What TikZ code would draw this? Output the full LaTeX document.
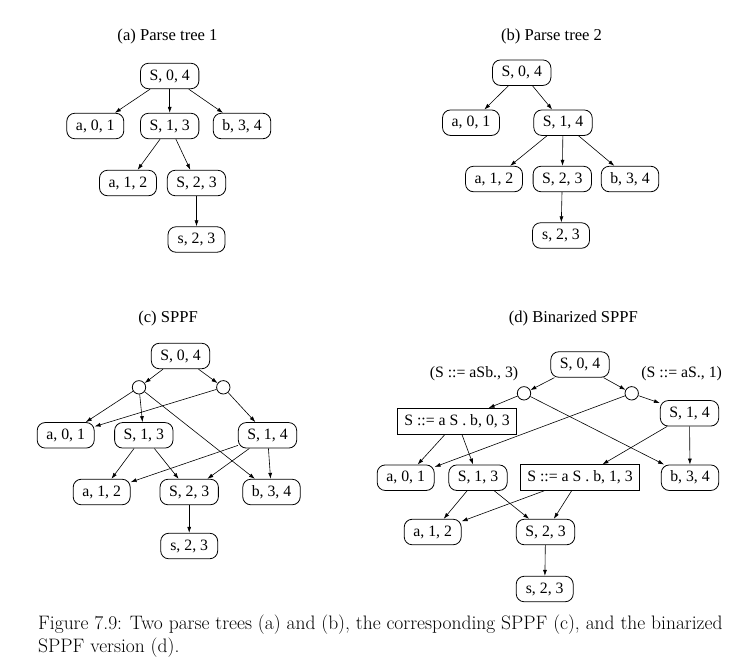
\documentclass[tikz,border=0pt]{standalone}
\usepackage{fontspec}
\setmainfont{Latin Modern Roman}
\newfontfamily\tmsfont{Liberation Serif}
\usetikzlibrary{arrows.meta}
\tikzset{
  every picture/.style={x=1pt,y=-1pt},
  lbl/.style={font=\tmsfont\fontsize{15.8}{18}\selectfont},
  ttl/.style={font=\tmsfont\fontsize{16.6}{19}\selectfont},
  rnode/.style={lbl,draw,rounded corners=8pt,line width=0.8pt,inner xsep=9pt,inner ysep=0pt,minimum height=25.5pt,minimum width=57pt},
  snode/.style={lbl,draw,line width=0.8pt,inner xsep=6.5pt,inner ysep=0pt,minimum height=25.5pt},
  pnode/.style={draw,circle,line width=0.8pt,minimum size=13.4pt,inner sep=0pt},
  edge/.style={line width=0.6pt,-{Latex[length=6pt,width=4pt]}},
}
\begin{document}
\begin{tikzpicture}
\useasboundingbox (0,0) rectangle (751,670);
% (a)
\node[ttl] (ta) at (167.5,37) {(a) Parse tree 1};
\node[rnode] (a04) at (169.7,76) {S, 0, 4};
\node[rnode] (a01) at (95.3,126) {a, 0, 1};
\node[rnode] (a13) at (169.7,126) {S, 1, 3};
\node[rnode] (ab34) at (242,126) {b, 3, 4};
\node[rnode] (aa12) at (128,183) {a, 1, 2};
\node[rnode] (a23) at (196.5,183) {S, 2, 3};
\node[rnode] (as23) at (196.5,239.5) {s, 2, 3};
\draw[edge] (a04) -- (a01);
\draw[edge] (a04) -- (a13);
\draw[edge] (a04) -- (ab34);
\draw[edge] (a13) -- (aa12);
\draw[edge] (a13) -- (a23);
\draw[edge] (a23) -- (as23);
% (b)
\node[ttl] (tb) at (551.5,37) {(b) Parse tree 2};
\node[rnode] (b04) at (521.7,72.7) {S, 0, 4};
\node[rnode] (b01) at (471,122.7) {a, 0, 1};
\node[rnode] (b14) at (563,122.7) {S, 1, 4};
\node[rnode] (ba12) at (494,179) {a, 1, 2};
\node[rnode] (b23) at (562.3,179) {S, 2, 3};
\node[rnode] (bb34) at (630,179) {b, 3, 4};
\node[rnode] (bs23) at (561,235.5) {s, 2, 3};
\draw[edge] (b04) -- (b01);
\draw[edge] (b04) -- (b14);
\draw[edge] (b14) -- (ba12);
\draw[edge] (b14) -- (b23);
\draw[edge] (b14) -- (bb34);
\draw[edge] (b23) -- (bs23);
% (c)
\node[ttl] (tc) at (168,318) {(c) SPPF};
\node[rnode] (c04) at (180.5,356) {S, 0, 4};
\node[pnode] (cp1) at (139,387.3) {};
\node[pnode] (cp2) at (223.3,387.3) {};
\node[rnode] (c01) at (65.7,435.3) {a, 0, 1};
\node[rnode] (c13) at (143.8,435.3) {S, 1, 3};
\node[rnode] (c14) at (267.5,435.3) {S, 1, 4};
\node[rnode] (ca12) at (101.7,492) {a, 1, 2};
\node[rnode] (c23) at (189.2,492) {S, 2, 3};
\node[rnode] (cb34) at (271.5,492) {b, 3, 4};
\node[rnode] (cs23) at (189.2,546) {s, 2, 3};
\draw[edge] (c04) -- (cp1);
\draw[edge] (c04) -- (cp2);
\draw[edge] (cp1) -- (c01);
\draw[edge] (cp1) -- (c13);
\draw[edge] (cp1) -- (cb34);
\draw[edge] (cp2) -- (c01);
\draw[edge] (cp2) -- (c14);
\draw[edge] (c13) -- (ca12);
\draw[edge] (c13) -- (c23);
\draw[edge] (c14) -- (ca12);
\draw[edge] (c14) -- (c23);
\draw[edge] (c14) -- (cb34);
\draw[edge] (c23) -- (cs23);
% (d)
\node[ttl] (td) at (573.3,318.3) {(d) Binarized SPPF};
\node[rnode] (d04) at (580,364.5) {S, 0, 4};
\node[lbl] (l1) at (474,374) {(S ::= aSb., 3)};
\node[lbl] (l2) at (681.7,374) {(S ::= aS., 1)};
\node[pnode] (dp1) at (524,393.3) {};
\node[pnode] (dp2) at (631.7,393.3) {};
\node[snode] (r03) at (457,421.2) {S ::= a S . b, 0, 3};
\node[rnode] (d14) at (689.5,413.3) {S, 1, 4};
\node[rnode] (d01) at (405.7,477.7) {a, 0, 1};
\node[rnode] (d13) at (478,477.7) {S, 1, 3};
\node[snode] (r13) at (580,477.5) {S ::= a S . b, 1, 3};
\node[rnode] (db34) at (690,477.7) {b, 3, 4};
\node[rnode] (da12) at (432.7,532) {a, 1, 2};
\node[rnode] (d23) at (545.5,532) {S, 2, 3};
\node[rnode] (ds23) at (544.7,589) {s, 2, 3};
\draw[edge] (d04) -- (dp1);
\draw[edge] (d04) -- (dp2);
\draw[edge] (dp1) -- (r03);
\draw[edge] (dp1) -- (db34);
\draw[edge] (dp2) -- (d01);
\draw[edge] (dp2) -- (d14);
\draw[edge] (r03) -- (d01);
\draw[edge] (r03) -- (d13);
\draw[edge] (d14) -- (r13);
\draw[edge] (d14) -- (db34);
\draw[edge] (d13) -- (da12);
\draw[edge] (d13) -- (d23);
\draw[edge] (r13) -- (da12);
\draw[edge] (r13) -- (d23);
\draw[edge] (d23) -- (ds23);
% caption
\node[anchor=base west,inner sep=0pt,align=left,font=\fontsize{19.5}{23.4}\selectfont] (cap) at (38,652.4)
  {Figure 7.9: Two parse trees (a) and (b), the corresponding SPPF (c), and the binarized\\SPPF version (d).};
\end{tikzpicture}
\end{document}
